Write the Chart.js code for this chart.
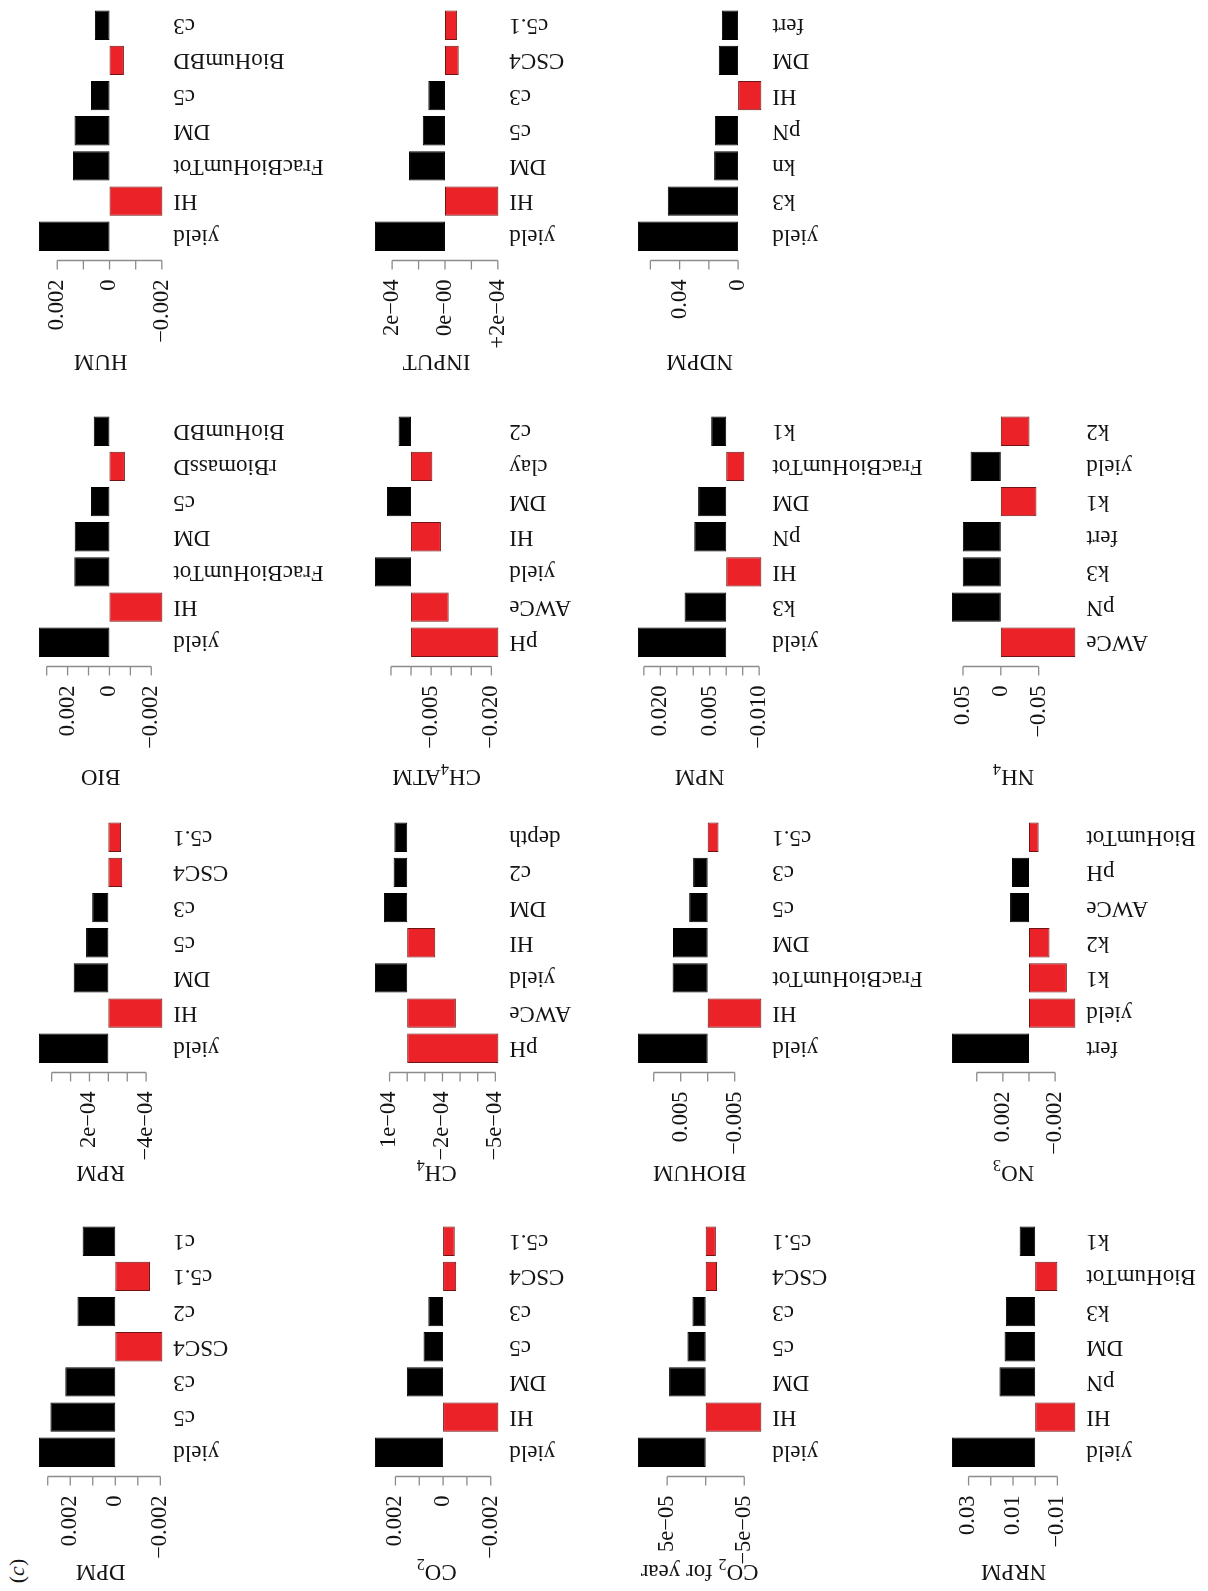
<!DOCTYPE html>
<html>
<head>
<meta charset="utf-8">
<script src="https://cdn.jsdelivr.net/npm/chart.js@4.4.1/dist/chart.umd.min.js"></script>
<style>
html,body{margin:0;padding:0;background:#fff;}
#page{position:relative;width:1208px;height:1591px;overflow:hidden;background:#fff;}
#page canvas{position:absolute;}
#tag{position:absolute;font-family:"Liberation Serif",serif;font-size:22px;color:#141414;left:17px;top:1570.5px;transform:translate(-50%,-50%) rotate(-90deg);white-space:nowrap;line-height:1;}
</style>
</head>
<body>
<div id="page"><div id="tag">(<i>c</i>)</div></div>
<script>
// ---------------- data ----------------
const dpmCats = ['yield','c5','c3','CSC4','c2','c5.1','c1'];
const dpmVals = [0.00339, 0.00288, 0.00222, -0.00209, 0.00168, -0.00154, 0.00145];
const dpmTicks = [0.003, 0.002, 0.001, 0, -0.001, -0.002];
const dpmTickLabels = ['', '0.002', '', '0', '', '\u22120.002'];

const co2Cats = ['yield','HI','DM','c5','c3','CSC4','c5.1'];
const co2Vals = [0.00286, -0.00232, 0.00152, 0.00082, 0.00062, -0.00055, -0.00049];
const co2Ticks = [0.002, 0.001, 0, -0.001, -0.002];
const co2TickLabels = ['0.002', '', '0', '', '\u22120.002'];

const co2yCats = ['yield','HI','DM','c5','c3','CSC4','c5.1'];
const co2yVals = [8.79e-5, -7.22e-5, 4.75e-5, 2.37e-5, 1.72e-5, -1.47e-5, -1.32e-5];
const co2yTicks = [5e-5, 0, -5e-5];
const co2yTickLabels = ['5e\u221205', '', '\u22125e\u221205'];

const nrpmCats = ['yield','HI','pN','DM','k3','BioHumTot','k1'];
const nrpmVals = [0.0375, -0.0181, 0.0161, 0.0138, 0.0132, -0.0100, 0.0070];
const nrpmTicks = [0.03, 0.02, 0.01, 0, -0.01];
const nrpmTickLabels = ['0.03', '', '0.01', '', '\u22120.01'];

const rpmCats = ['yield','HI','DM','c5','c3','CSC4','c5.1'];
const rpmVals = [7.35e-4, -5.72e-4, 3.67e-4, 2.36e-4, 1.71e-4, -1.47e-4, -1.35e-4];
const rpmTicks = [6e-4, 4e-4, 2e-4, 0, -2e-4, -4e-4];
const rpmTickLabels = ['', '', '2e\u221204', '', '', '\u22124e\u221204'];

const ch4Cats = ['pH','AWCe','yield','HI','DM','c2','depth'];
const ch4Vals = [-5.17e-4, -2.76e-4, 1.83e-4, -1.59e-4, 1.32e-4, 0.77e-4, 0.73e-4];
const ch4Ticks = [1e-4, 0, -1e-4, -2e-4, -3e-4, -4e-4, -5e-4];
const ch4TickLabels = ['1e\u221204', '', '', '\u22122e\u221204', '', '', '\u22125e\u221204'];

const biohumCats = ['yield','HI','FracBioHumTot','DM','c5','c3','c5.1'];
const biohumVals = [0.01292, -0.00994, 0.0065, 0.00643, 0.00343, 0.0027, -0.0020];
const biohumTicks = [0.01, 0.005, 0, -0.005];
const biohumTickLabels = ['', '0.005', '', '\u22120.005'];

const no3Cats = ['fert','yield','k1','k2','AWCe','pH','BioHumTot'];
const no3Vals = [0.0059, -0.00355, -0.0029, -0.00157, 0.00145, 0.0013, -0.00074];
const no3Ticks = [0.004, 0.002, 0, -0.002];
const no3TickLabels = ['', '0.002', '', '\u22120.002'];

const bioCats = ['yield','HI','FracBioHumTot','DM','c5','rBiomassD','BioHumBD'];
const bioVals = [0.00337, -0.00253, 0.00168, 0.00166, 0.00088, -0.00074, 0.00075];
const bioTicks = [0.003, 0.002, 0.001, 0, -0.001, -0.002];
const bioTickLabels = ['', '0.002', '', '0', '', '\u22120.002'];

const ch4atmCats = ['pH','AWCe','yield','HI','DM','clay','c2'];
const ch4atmVals = [-0.02174, -0.00937, 0.00899, -0.00744, 0.0060, -0.0053, 0.0031];
const ch4atmTicks = [0.005, 0, -0.005, -0.01, -0.015, -0.02];
const ch4atmTickLabels = ['', '', '\u22120.005', '', '', '\u22120.020'];

const npmCats = ['yield','k3','HI','pN','DM','FracBioHumTot','k1'];
const npmVals = [0.0268, 0.01264, -0.01067, 0.0097, 0.00853, -0.0055, 0.00456];
const npmTicks = [0.025, 0.02, 0.015, 0.01, 0.005, 0, -0.005, -0.01];
const npmTickLabels = ['', '0.020', '', '', '0.005', '', '', '\u22120.010'];

const nh4Cats = ['AWCe','pN','k3','fert','k1','yield','k2'];
const nh4Vals = [-0.0985, 0.0646, 0.0503, 0.0502, -0.0471, 0.040, -0.0379];
const nh4Ticks = [0.05, 0, -0.05];
const nh4TickLabels = ['0.05', '0', '\u22120.05'];

const humCats = ['yield','HI','FracBioHumTot','DM','c5','BioHumBD','c3'];
const humVals = [0.0027, -0.00202, 0.0014, 0.00134, 0.00071, -0.00055, 0.00056];
const humTicks = [0.002, 0.001, 0, -0.001, -0.002];
const humTickLabels = ['0.002', '', '0', '', '\u22120.002'];

const inputCats = ['yield','HI','DM','c5','c3','CSC4','c5.1'];
const inputVals = [2.65e-4, -2.02e-4, 1.36e-4, 0.84e-4, 0.63e-4, -0.52e-4, -0.46e-4];
const inputTicks = [2e-4, 1e-4, 0, -1e-4, -2e-4];
const inputTickLabels = ['2e\u221204', '', '0e\u221200', '', '+2e\u221204'];

const ndpmCats = ['yield','k3','kn','pN','HI','DM','fert'];
const ndpmVals = [0.0685, 0.0481, 0.0164, 0.0159, -0.0159, 0.0132, 0.0111];
const ndpmTicks = [0.06, 0.04, 0.02, 0];
const ndpmTickLabels = ['', '0.04', '', '0'];

// panels: title ("_x" = subscript), grid row/col
const panels = [
  {title:'HUM', cats:humCats, vals:humVals, ticks:humTicks, labels:humTickLabels, row:0, col:0},
  {title:'INPUT', cats:inputCats, vals:inputVals, ticks:inputTicks, labels:inputTickLabels, row:0, col:1},
  {title:'NDPM', cats:ndpmCats, vals:ndpmVals, ticks:ndpmTicks, labels:ndpmTickLabels, row:0, col:2},
  {title:'BIO', cats:bioCats, vals:bioVals, ticks:bioTicks, labels:bioTickLabels, row:1, col:0},
  {title:'CH_4ATM', cats:ch4atmCats, vals:ch4atmVals, ticks:ch4atmTicks, labels:ch4atmTickLabels, row:1, col:1},
  {title:'NPM', cats:npmCats, vals:npmVals, ticks:npmTicks, labels:npmTickLabels, row:1, col:2},
  {title:'NH_4', cats:nh4Cats, vals:nh4Vals, ticks:nh4Ticks, labels:nh4TickLabels, row:1, col:3},
  {title:'RPM', cats:rpmCats, vals:rpmVals, ticks:rpmTicks, labels:rpmTickLabels, row:2, col:0},
  {title:'CH_4', cats:ch4Cats, vals:ch4Vals, ticks:ch4Ticks, labels:ch4TickLabels, row:2, col:1},
  {title:'BIOHUM', cats:biohumCats, vals:biohumVals, ticks:biohumTicks, labels:biohumTickLabels, row:2, col:2},
  {title:'NO_3', cats:no3Cats, vals:no3Vals, ticks:no3Ticks, labels:no3TickLabels, row:2, col:3},
  {title:'DPM', cats:dpmCats, vals:dpmVals, ticks:dpmTicks, labels:dpmTickLabels, row:3, col:0},
  {title:'CO_2', cats:co2Cats, vals:co2Vals, ticks:co2Ticks, labels:co2TickLabels, row:3, col:1},
  {title:'CO_2 for year', cats:co2yCats, vals:co2yVals, ticks:co2yTicks, labels:co2yTickLabels, row:3, col:2},
  {title:'NRPM', cats:nrpmCats, vals:nrpmVals, ticks:nrpmTicks, labels:nrpmTickLabels, row:3, col:3}
];

// ---------------- layout ----------------
const COL_LEFT = [33.5, 370.3, 632.9, 946.8];
const ROW_TOP = [0.5, 407, 812.5, 1217];
const TITLE_Y = [355, 770, 1166, 1565];
const PLOT_W = 133.3, PLOT_H = 259.5;
const CW = 345, CH = 392, PAD_L = 25, PAD_T = 6;
const RED = '#EB2227', BLACK = '#000000';
const AXIS_COLOR = '#8c8c8c', TEXT_COLOR = '#141414';
const SERIF = '"Liberation Serif", "Times New Roman", serif';

function parseTitle(s) {
  const segs = [];
  let buf = '';
  for (let i = 0; i < s.length; i++) {
    if (s[i] === '_' && i + 1 < s.length) {
      if (buf) { segs.push({t: buf, sub: false}); buf = ''; }
      segs.push({t: s[i + 1], sub: true});
      i++;
    } else buf += s[i];
  }
  if (buf) segs.push({t: buf, sub: false});
  return segs;
}

function makePlugin(p) {
  return {
    id: 'rAxes',
    afterDraw(chart) {
      const ctx = chart.ctx;
      const xs = chart.scales.x, ys = chart.scales.y;
      const area = chart.chartArea;
      const axisY = area.bottom;
      const px = p.ticks.map(v => xs.getPixelForValue(v));
      ctx.save();
      // value axis line and tick marks
      ctx.strokeStyle = AXIS_COLOR;
      ctx.lineWidth = 1.3;
      ctx.beginPath();
      ctx.moveTo(Math.min(...px), axisY);
      ctx.lineTo(Math.max(...px), axisY);
      px.forEach(x => { ctx.moveTo(x, axisY); ctx.lineTo(x, axisY + 9); });
      ctx.stroke();
      // tick labels (rotated, reading upward)
      ctx.fillStyle = TEXT_COLOR;
      ctx.font = '22.5px ' + SERIF;
      p.labels.forEach((t, i) => {
        if (!t) return;
        ctx.save();
        ctx.translate(px[i], axisY + 19);
        ctx.rotate(-Math.PI / 2);
        ctx.textAlign = 'right';
        ctx.textBaseline = 'middle';
        ctx.fillText(t, 0, 0);
        ctx.restore();
      });
      // category labels (upside down)
      ctx.font = '23px ' + SERIF;
      p.cats.forEach((c, i) => {
        const y = ys.getPixelForValue(p.pos[i]);
        ctx.save();
        ctx.translate(area.right + 6, y);
        ctx.rotate(Math.PI);
        ctx.textAlign = 'right';
        ctx.textBaseline = 'middle';
        ctx.fillText(c, 0, 0);
        ctx.restore();
      });
      // title (upside down, with subscripts)
      const segs = parseTitle(p.title);
      const mainFont = '23px ' + SERIF, subFont = '16px ' + SERIF;
      let total = 0;
      segs.forEach(s => { ctx.font = s.sub ? subFont : mainFont; s.w = ctx.measureText(s.t).width; total += s.w; });
      const cx = (area.left + area.right) / 2;
      const ty = p.titleY - chart.canvas.offsetTop;
      ctx.translate(cx, ty);
      ctx.rotate(Math.PI);
      ctx.textAlign = 'left';
      ctx.textBaseline = 'alphabetic';
      let x = -total / 2;
      segs.forEach(s => {
        ctx.font = s.sub ? subFont : mainFont;
        ctx.fillText(s.t, x, s.sub ? 6 : 0);
        x += s.w;
      });
      ctx.restore();
    }
  };
}

const page = document.getElementById('page');
panels.forEach(p => {
  const cv = document.createElement('canvas');
  cv.width = CW; cv.height = CH;
  cv.style.width = CW + 'px'; cv.style.height = CH + 'px';
  cv.style.left = (COL_LEFT[p.col] - PAD_L) + 'px';
  cv.style.top = (ROW_TOP[p.row] - PAD_T) + 'px';
  page.appendChild(cv);

  // barplot-style positions: bar width 1, space 0.2
  p.pos = p.vals.map((v, i) => 0.7 + 1.2 * i);
  p.titleY = TITLE_Y[p.row];
  const lo = Math.min(0, ...p.vals), hi = Math.max(0, ...p.vals);
  const ext = 0.04 * (hi - lo);
  const n = p.vals.length;
  const catLo = 0.2 - 0.04 * (1.2 * n - 0.2);
  const catHi = 1.2 * n + 0.04 * (1.2 * n - 0.2);

  new Chart(cv, {
    type: 'bar',
    data: {
      datasets: [{
        data: p.vals.map((v, i) => ({x: v, y: p.pos[i]})),
        backgroundColor: p.vals.map(v => v < 0 ? RED : BLACK),
        borderColor: p.vals.map(v => v < 0 ? '#6e1414' : BLACK),
        borderWidth: 1,
        borderSkipped: false,
        barPercentage: 1 / 1.2,
        categoryPercentage: 1
      }]
    },
    options: {
      indexAxis: 'y',
      responsive: false,
      animation: false,
      devicePixelRatio: 1,
      layout: {padding: {left: PAD_L, top: PAD_T, right: CW - PAD_L - PLOT_W, bottom: CH - PAD_T - PLOT_H}},
      plugins: {legend: {display: false}, tooltip: {enabled: false}},
      scales: {
        x: {
          type: 'linear', display: false, reverse: true, offset: false,
          min: lo - ext, max: hi + ext,
          afterBuildTicks: s => { s.ticks = p.ticks.map(v => ({value: v})); }
        },
        y: {
          type: 'linear', display: false, offset: false, grid: {offset: false},
          min: catLo, max: catHi,
          afterBuildTicks: s => { s.ticks = p.pos.map(v => ({value: v})); }
        }
      }
    },
    plugins: [makePlugin(p)]
  });
});
</script>
</body>
</html>
